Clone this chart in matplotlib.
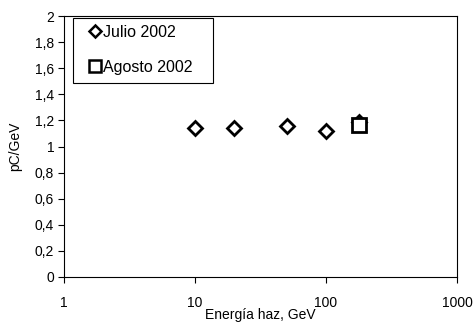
import matplotlib
matplotlib.use('Agg')
import matplotlib.pyplot as plt
from matplotlib.lines import Line2D
from matplotlib.patches import Rectangle
from matplotlib.ticker import FixedLocator, FuncFormatter

plt.rcParams['font.family'] = ['Liberation Sans', 'DejaVu Sans']

# data
julio_e = [10, 20, 50, 100, 180]
julio_q = [1.14, 1.14, 1.155, 1.12, 1.19]
agosto_e = [180]
agosto_q = [1.165]

fig = plt.figure(figsize=(4.77, 3.22), dpi=100)
ax = fig.add_axes([0.134, 0.14, 0.824, 0.81])

ax.plot(julio_e, julio_q, linestyle='none', marker='D', markersize=7.5,
        markerfacecolor='white', markeredgecolor='black', markeredgewidth=2)
ax.plot(agosto_e, agosto_q, linestyle='none', marker='s', markersize=10.5,
        markerfacecolor='white', markeredgecolor='black', markeredgewidth=2)

ax.set_xscale('log')
ax.set_xlim(1, 1000)
ax.set_ylim(0, 2)
ax.xaxis.set_major_locator(FixedLocator([1, 10, 100, 1000]))
ax.xaxis.set_minor_locator(FixedLocator([]))
ax.xaxis.set_major_formatter(FuncFormatter(lambda v, p: '%d' % v))
ax.yaxis.set_major_locator(FixedLocator([i * 0.2 for i in range(11)]))
ax.yaxis.set_major_formatter(FuncFormatter(lambda v, p: ('%g' % round(v, 1)).replace('.', ',')))
ax.tick_params(axis='both', direction='out', length=4, width=0.8, labelsize=10, pad=3)
ax.tick_params(axis='x', pad=10)
for s in ax.spines.values():
    s.set_linewidth(0.8)

ax.set_xlabel('Energía haz, GeV', fontsize=10, labelpad=-2)
ax.set_ylabel('pC/GeV', fontsize=10, labelpad=9)

# legend box (white, sits over the top spine)
box = Rectangle((0.022, 0.743), 0.357, 0.25, transform=ax.transAxes,
                facecolor='white', edgecolor='black', linewidth=0.8,
                clip_on=False, zorder=4)
ax.add_patch(box)

handles = [
    Line2D([], [], linestyle='none', marker='D', markersize=6.5, markerfacecolor='white',
           markeredgecolor='black', markeredgewidth=1.8, label='Julio 2002'),
    Line2D([], [], linestyle='none', marker='s', markersize=8.5, markerfacecolor='white',
           markeredgecolor='black', markeredgewidth=1.8, label='Agosto 2002'),
]
leg = ax.legend(handles=handles, loc='upper left', bbox_to_anchor=(0.066, 0.966),
                fontsize=11.5, frameon=False, handlelength=0.7, handletextpad=0.1,
                labelspacing=1.25, borderpad=0, borderaxespad=0)
leg.set_zorder(5)

fig.savefig('out.png', dpi=100)
